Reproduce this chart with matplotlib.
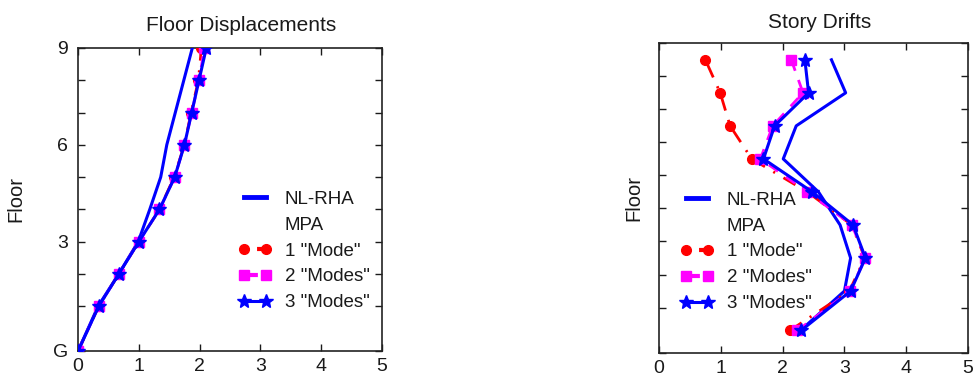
import matplotlib
matplotlib.use("Agg")
import matplotlib.pyplot as plt
from matplotlib.lines import Line2D
import numpy as np

plt.rcParams['font.family'] = ['Liberation Sans', 'DejaVu Sans']
plt.rcParams['lines.scale_dashes'] = False

# Floor heights (ft): G, 1..9
floor_heights = [0, 18, 31, 44, 57, 70, 83, 96, 109, 122]
floor_tick_labels = ['G', '', '', '3', '', '', '6', '', '', '9']

# Floor displacements (left panel), floors G..9
disp_nlrha = [0, 0.33, 0.67, 0.99, 1.18, 1.36, 1.46, 1.60, 1.74, 1.88]
disp_mode1 = [0, 0.34, 0.67, 1.00, 1.34, 1.58, 1.75, 1.86, 1.98, 2.03]
disp_mode2 = [0, 0.34, 0.67, 1.00, 1.34, 1.59, 1.75, 1.87, 1.99, 2.08]
disp_mode3 = [0, 0.34, 0.67, 1.00, 1.34, 1.59, 1.75, 1.87, 1.99, 2.11]

# Story drifts (right panel), stories 1..9
drift_nlrha = [2.29, 3.00, 3.10, 2.93, 2.58, 2.01, 2.22, 3.02, 2.79]
drift_mode1 = [2.12, 3.08, 3.33, 3.12, 2.40, 1.50, 1.15, 0.99, 0.75]
drift_mode2 = [2.24, 3.09, 3.34, 3.12, 2.40, 1.64, 1.84, 2.33, 2.14]
drift_mode3 = [2.30, 3.10, 3.34, 3.14, 2.48, 1.69, 1.87, 2.42, 2.36]

x_ticks = [0, 1, 2, 3, 4, 5]

BLUE = '#0000ff'
RED = '#ff0000'
MAG = '#ff00ff'
TXT = '#1a1a1a'

mid_heights = [(floor_heights[i] + floor_heights[i + 1]) / 2 for i in range(len(floor_heights) - 1)]

fig = plt.figure(figsize=(9.73, 3.76), dpi=100)
axL = fig.add_axes([0.0802, 0.0665, 0.3124, 0.806])
axR = fig.add_axes([0.6773, 0.0604, 0.3176, 0.8245])

red_ls = (0, (10, 7, 1.5, 7))
mag_ls = (0, (8, 7))


def draw(ax, y, nl, m1, m2, m3):
    ax.plot(nl, y, color=BLUE, lw=2.2, zorder=3)
    ax.plot(m1, y, color=RED, lw=2, ls=red_ls, marker='o', ms=7, zorder=4)
    ax.plot(m2, y, color=MAG, lw=2, ls=mag_ls, marker='s', ms=7, zorder=5)
    ax.plot(m3, y, color=BLUE, lw=2.2, marker='*', ms=10, zorder=6)


draw(axL, floor_heights, disp_nlrha, disp_mode1, disp_mode2, disp_mode3)
draw(axR, mid_heights, drift_nlrha, drift_mode1, drift_mode2, drift_mode3)

for ax in (axL, axR):
    ax.set_xlim(0, 5)
    ax.set_ylim(floor_heights[0], floor_heights[-1])
    ax.set_xticks(x_ticks)
    ax.set_yticks(floor_heights)
    ax.tick_params(direction='in', length=5, width=1, top=True, right=True,
                   labelsize=14, colors=TXT, labelcolor=TXT)
    ax.tick_params(axis='x', pad=5)
    ax.tick_params(axis='y', pad=7)
    for s in ax.spines.values():
        s.set_linewidth(1.2)
        s.set_color('#222222')
    ax.set_ylabel('Floor', fontsize=14.5, color=TXT)

axL.set_yticklabels(floor_tick_labels)
axR.set_yticklabels([''] * len(floor_heights))
axL.yaxis.set_label_coords(-0.174, 0.5)
axR.yaxis.set_label_coords(-0.052, 0.5)

axL.set_title('Floor Displacements', fontsize=15, color=TXT, pad=12, x=0.535)
axR.set_title('Story Drifts', fontsize=15, color=TXT, pad=11, x=0.52)

handles = [
    Line2D([], [], color=BLUE, lw=3.5),
    Line2D([], [], color='none'),
    Line2D([], [], color=RED, lw=3, ls=(17.6, (15, 12)), marker='o', ms=7),
    Line2D([], [], color=MAG, lw=3, ls=(0, (10, 20)), marker='s', ms=7),
    Line2D([], [], color=BLUE, lw=2.2, marker='*', ms=10),
]
labels = ['NL-RHA', 'MPA', '1 "Mode"', '2 "Modes"', '3 "Modes"']

for ax, anchor in ((axL, (0.526, 0.33)), (axR, (0.068, 0.327))):
    ax.legend(handles, labels, loc='center left', bbox_to_anchor=anchor,
              frameon=False, fontsize=13.5, handlelength=1.8, handletextpad=0.7,
              labelspacing=0.47, numpoints=2, borderpad=0, borderaxespad=0,
              labelcolor=TXT)

fig.savefig('out.png', dpi=100)
